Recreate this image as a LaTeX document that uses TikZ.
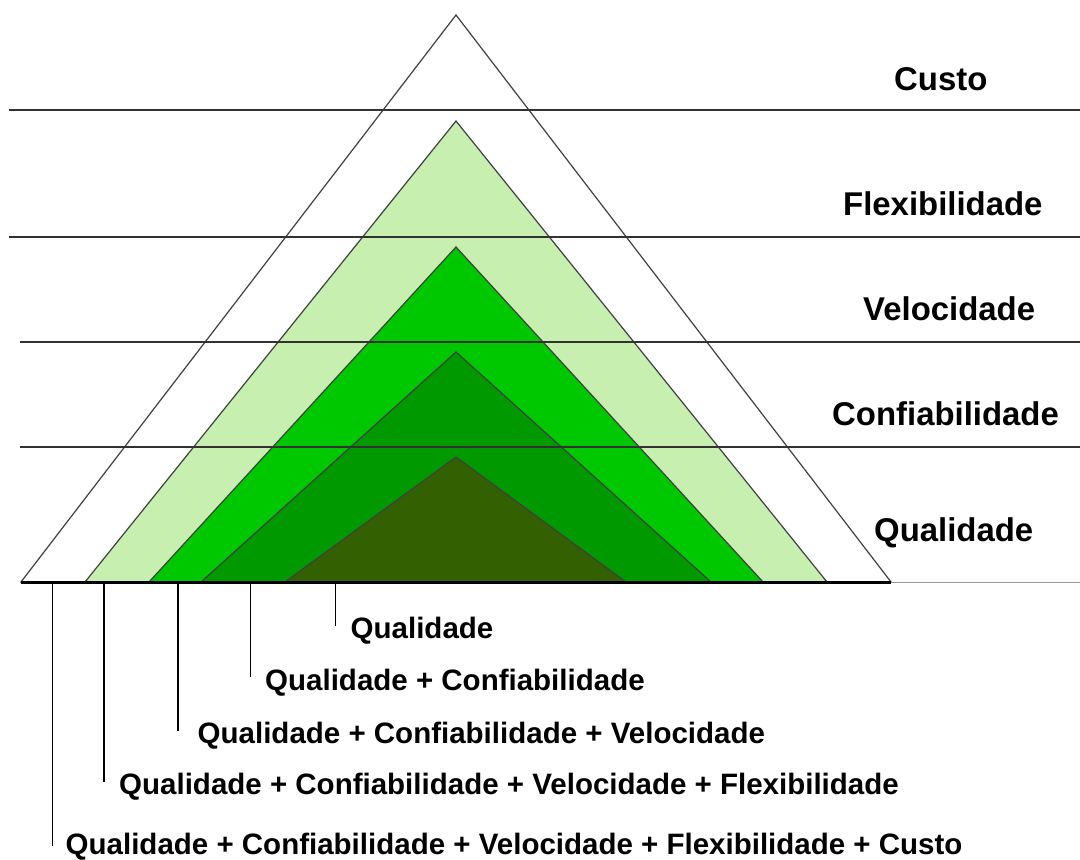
\documentclass[tikz,border=0pt]{standalone}
\usepackage{fontspec}
\setmainfont{Liberation Sans}
\definecolor{lgreen}{RGB}{198,239,176}
\definecolor{mgreen}{RGB}{0,200,0}
\definecolor{dgreen}{RGB}{0,153,0}
\definecolor{olive}{RGB}{51,96,0}
\definecolor{lineg}{RGB}{50,50,50}
\begin{document}
\begin{tikzpicture}[x=1pt,y=-1pt,
  tri/.style={draw=black!75,line width=1.2pt,line join=miter},
  hline/.style={draw=lineg,line width=2pt},
  tick/.style={draw=black,line width=1.6pt},
  toplabel/.style={anchor=base west,inner sep=0pt,font=\fontsize{32.9}{34}\selectfont\bfseries},
  botlabel/.style={anchor=base west,inner sep=0pt,font=\fontsize{29.5}{31}\selectfont\bfseries}]
\useasboundingbox[fill=white] (0,0) rectangle (1080,860);
% triangles
\draw[tri,fill=white] (21,582) -- (456,15) -- (891,582) -- cycle;
\draw[tri,fill=lgreen] (85,582) -- (456,121) -- (827,582) -- cycle;
\draw[tri,fill=mgreen] (149,582) -- (456,247) -- (763,582) -- cycle;
\draw[tri,fill=dgreen] (201,582) -- (456,352) -- (711,582) -- cycle;
\draw[tri,fill=olive] (285,582) -- (456,457) -- (626,582) -- cycle;
% horizontal lines
\draw[hline] (9,110) -- (1080,110);
\draw[hline] (9,236.5) -- (1080,236.5);
\draw[hline] (20,342) -- (1080,342);
\draw[hline] (20,447) -- (1080,447);
\draw[draw=black,line width=2.4pt] (21,582.5) -- (891,582.5);
\draw[draw=black!40,line width=1.8pt] (891,582.5) -- (1080,582.5);
% right labels
\node[toplabel] (custo) at (894,90.5) {Custo};
\node[toplabel] (flex) at (843,215.5) {Flexibilidade};
\node[toplabel] (vel) at (863,320) {Velocidade};
\node[toplabel] (conf) at (832,425) {Confiabilidade};
\node[toplabel] (qual) at (874,541) {Qualidade};
% bottom labels
\node[botlabel] (b1) at (350.5,638) {Qualidade};
\node[botlabel] (b2) at (265,690) {Qualidade + Confiabilidade};
\node[botlabel] (b3) at (197.5,743) {Qualidade + Confiabilidade + Velocidade};
\node[botlabel] (b4) at (119,794) {Qualidade + Confiabilidade + Velocidade + Flexibilidade};
\node[botlabel] (b5) at (65.5,854) {Qualidade + Confiabilidade + Velocidade + Flexibilidade + Custo};
% ticks
\coordinate (t1a) at (335.5,583); \coordinate (t1b) at (335.5,626);
\coordinate (t2a) at (250.5,583); \coordinate (t2b) at (250.5,677);
\coordinate (t3a) at (178,583); \coordinate (t3b) at (178,731);
\coordinate (t4a) at (104,583); \coordinate (t4b) at (104,782);
\coordinate (t5a) at (52.5,583); \coordinate (t5b) at (52.5,846);
\draw[tick] (t1a) -- (t1b);
\draw[tick] (t2a) -- (t2b);
\draw[tick] (t3a) -- (t3b);
\draw[tick] (t4a) -- (t4b);
\draw[tick] (t5a) -- (t5b);
\end{tikzpicture}
\end{document}
